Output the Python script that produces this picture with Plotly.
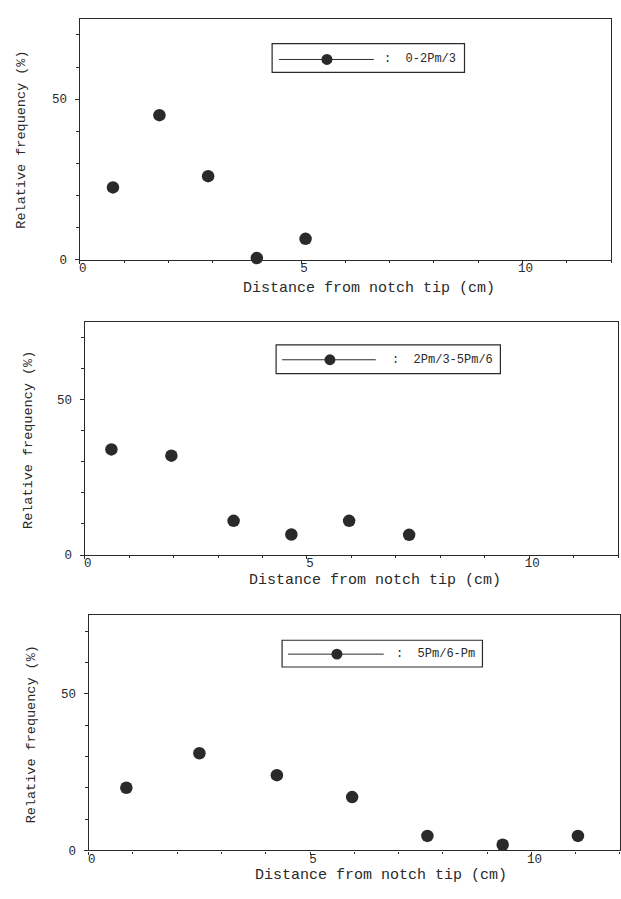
import plotly.graph_objects as go

W, H = 621, 899

# ---- data ----
x_p1 = [0.75, 1.8, 2.9, 4.0, 5.1]
y_p1 = [22.5, 45.0, 26.0, 0.5, 6.5]
x_p2 = [0.6, 1.95, 3.35, 4.65, 5.95, 7.3]
y_p2 = [34.0, 32.0, 11.0, 6.6, 11.0, 6.5]
x_p3 = [0.85, 2.5, 4.25, 5.95, 7.65, 9.35, 11.05]
y_p3 = [20.0, 31.0, 24.0, 17.0, 4.6, 1.8, 4.6]
series_names = ["0-2Pm/3", "2Pm/3-5Pm/6", "5Pm/6-Pm"]
x_ticks = [0, 5, 10]
y_ticks = [0, 50]
x_title = "Distance from notch tip (cm)"
y_title = "Relative frequency (%)"

INK = "#2a2a2a"
MONO = "Liberation Mono, DejaVu Sans Mono, monospace"

def px(x):
    return min(max(x / W, 0.0), 1.0)

def py(y):
    return min(max((H - y) / H, 0.0), 1.0)

# panel frames in window pixels: left, right, top, bottom
panels = [
    (79, 612, 19, 262),
    (84, 619, 325, 560),
    (88, 621, 621, 858),
]
legend_boxes = [
    # box l, r, t, b, line y, line l, line r, marker x, text x
    (272, 465, 44, 73, 60, 279, 374, 327, 382),
    (276, 501, 348, 377, 363, 282, 376, 330, 390),
    (282, 483, 646, 673, 660, 288, 384, 337, 394),
]
xtitle_pos = [(369, 291), (375, 586), (381, 883)]
ytitle_pos = [(21, 141), (27, 444), (31, 741)]

data = [(x_p1, y_p1), (x_p2, y_p2), (x_p3, y_p3)]

fig = go.Figure()
layout = dict(
    width=W, height=H,
    margin=dict(l=0, r=0, t=0, b=0),
    paper_bgcolor="white", plot_bgcolor="white",
    showlegend=False,
    shapes=[], annotations=[],
)

for i, ((xs, ys), (l, r, t, b)) in enumerate(zip(data, panels)):
    n = "" if i == 0 else str(i + 1)
    fig.add_trace(go.Scatter(
        x=xs, y=ys, mode="markers", name=series_names[i],
        xaxis="x" + n, yaxis="y" + n,
        marker=dict(size=12.5, color=INK, line=dict(width=0)),
        cliponaxis=False,
    ))
    layout["xaxis" + n] = dict(
        domain=[px(l), px(r)], anchor="y" + n, range=[0, 12],
        tickvals=x_ticks, ticks="outside", ticklen=3, tickwidth=1.2, tickcolor=INK,
        ticklabelshift=3, ticklabelstandoff=-7,
        minor=dict(dtick=1, ticks="outside", ticklen=2, tickcolor=INK),
        showline=True, linecolor=INK, linewidth=1.3, mirror=True,
        showgrid=False, zeroline=False,
        tickfont=dict(family=MONO, size=12.5, color=INK),
    )
    layout["yaxis" + n] = dict(
        domain=[py(b), py(t)], anchor="x" + n, range=[0, 75],
        tickvals=y_ticks, ticks="outside", ticklen=4, tickwidth=1.2, tickcolor=INK,
        ticklabelstandoff=5,
        minor=dict(dtick=10, ticks="outside", ticklen=3, tickcolor=INK),
        showline=True, linecolor=INK, linewidth=1.3, mirror=True,
        showgrid=False, zeroline=False,
        tickfont=dict(family=MONO, size=12.5, color=INK),
    )
    # axis titles
    tx, ty = xtitle_pos[i]
    layout["annotations"].append(dict(
        text=x_title, x=px(tx), y=py(ty), xref="paper", yref="paper",
        xanchor="center", yanchor="middle", showarrow=False,
        font=dict(family=MONO, size=15, color=INK)))
    yx, yy = ytitle_pos[i]
    layout["annotations"].append(dict(
        text=y_title, x=px(yx), y=py(yy), xref="paper", yref="paper",
        xanchor="center", yanchor="middle", showarrow=False, textangle=-90,
        font=dict(family=MONO, size=13.5, color=INK)))
    # legend box drawn manually (long line sample as in original)
    bl, br, bt, bb, ly, ll, lr, mx, txx = legend_boxes[i]
    layout["shapes"].append(dict(
        type="rect", xref="paper", yref="paper",
        x0=px(bl), x1=px(br), y0=py(bb), y1=py(bt),
        line=dict(color=INK, width=1.2), fillcolor="white"))
    layout["shapes"].append(dict(
        type="line", xref="paper", yref="paper",
        x0=px(ll), x1=px(lr), y0=py(ly), y1=py(ly),
        line=dict(color=INK, width=1)))
    layout["shapes"].append(dict(
        type="circle", xref="paper", yref="paper",
        x0=px(mx - 5.5), x1=px(mx + 5.5), y0=py(ly + 5.5), y1=py(ly - 5.5),
        line=dict(color=INK, width=0), fillcolor=INK))
    layout["annotations"].append(dict(
        text=":  " + series_names[i], x=px(txx), y=py(ly), xref="paper", yref="paper",
        xanchor="left", yanchor="middle", showarrow=False,
        font=dict(family=MONO, size=12, color=INK)))

fig.update_layout(**layout)
# remove the page's default body margin so the figure fills the window exactly
fig.write_html(
    "out.html",
    config={"displayModeBar": False},
    post_script="document.body.style.margin='0';document.documentElement.style.overflow='hidden';",
)
